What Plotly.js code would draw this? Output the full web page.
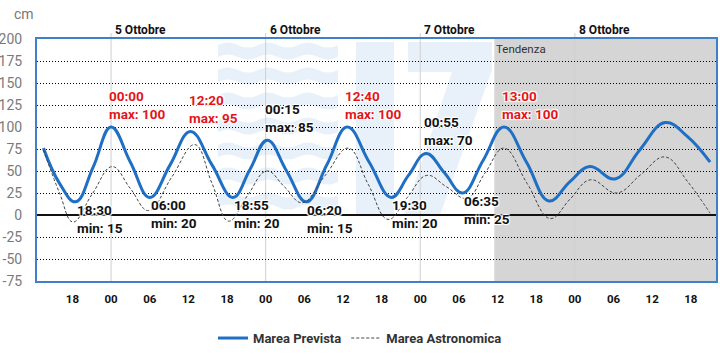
<!DOCTYPE html>
<html>
<head>
<meta charset="utf-8">
<script src="https://cdn.plot.ly/plotly-3.0.1.min.js"></script>
<style>html,body{margin:0;padding:0;background:#fff;}#chart{width:720px;height:357px;}</style>
</head>
<body>
<div id="chart"></div>
<script>
// ---- Data ----
const tPrevista = ['2024-10-04 13:30','2024-10-04 16:00','2024-10-04 18:30','2024-10-04 21:15','2024-10-05 00:00','2024-10-05 03:00','2024-10-05 06:00','2024-10-05 09:10','2024-10-05 12:20','2024-10-05 15:40','2024-10-05 18:55','2024-10-05 21:35','2024-10-06 00:15','2024-10-06 03:15','2024-10-06 06:20','2024-10-06 09:30','2024-10-06 12:40','2024-10-06 16:05','2024-10-06 19:30','2024-10-06 22:10','2024-10-07 00:55','2024-10-07 03:45','2024-10-07 06:35','2024-10-07 09:45','2024-10-07 13:00','2024-10-07 16:30','2024-10-07 20:00','2024-10-07 23:15','2024-10-08 02:20','2024-10-08 06:15','2024-10-08 10:05','2024-10-08 14:00','2024-10-08 17:30','2024-10-08 21:00'];
const vPrevista = [76,36,15,55,100,60,20,57,95,57,20,52,85,50,15,57,100,60,20,45,70,48,25,62,100,60,16,38,55,41,74,105,89,60];

const tAstronomica = ['2024-10-04 13:30','2024-10-04 16:00','2024-10-04 18:05','2024-10-04 21:05','2024-10-05 00:10','2024-10-05 03:00','2024-10-05 05:50','2024-10-05 09:25','2024-10-05 13:00','2024-10-05 15:40','2024-10-05 18:15','2024-10-05 21:10','2024-10-06 00:10','2024-10-06 02:55','2024-10-06 05:40','2024-10-06 09:15','2024-10-06 12:50','2024-10-06 15:55','2024-10-06 19:00','2024-10-06 22:00','2024-10-07 01:00','2024-10-07 04:05','2024-10-07 07:15','2024-10-07 10:05','2024-10-07 13:00','2024-10-07 16:35','2024-10-07 20:10','2024-10-07 23:15','2024-10-08 02:25','2024-10-08 06:30','2024-10-08 10:15','2024-10-08 14:00','2024-10-08 17:30','2024-10-08 21:00'];
const vAstronomica = [74,25,-8,24,55,30,5,43,80,36,-7,22,50,32,14,45,76,35,-5,20,45,32,19,48,76,36,-4,18,40,25,46,66,38,2];

const maxTimes = ['2024-10-05 00:00','2024-10-05 12:20','2024-10-06 00:15','2024-10-06 12:40','2024-10-07 00:55','2024-10-07 13:00'];
const maxLabels = ['00:00','12:20','00:15','12:40','00:55','13:00'];
const maxValues = [100,95,85,100,70,100];

const minTimes = ['2024-10-04 18:30','2024-10-05 06:00','2024-10-05 18:55','2024-10-06 06:20','2024-10-06 19:30','2024-10-07 06:35'];
const minLabels = ['18:30','06:00','18:55','06:20','19:30','06:35'];
const minValues = [15,20,20,15,20,25];

const dayTimes = ['2024-10-05 00:00','2024-10-06 00:00','2024-10-07 00:00','2024-10-08 00:00'];
const dayLabels = ['5 Ottobre','6 Ottobre','7 Ottobre','8 Ottobre'];

const yTickVals = [-75,-50,-25,0,25,50,75,100,125,150,175,200];
const yTickText = ['-75','-50','-25','0','25','50','75','100','125','150','175','200'];

const tendenzaStart = '2024-10-07 11:30';
const xRange = ['2024-10-04 12:30','2024-10-08 21:55'];
const yRange = [-75, 200];

// ---- Style ----
const BLUE = '#1f6fc5';
const RED = '#e3151a';
const FONT = 'Roboto, "Liberation Sans", sans-serif';
const HALO = '1px 1px 1px #fff, -1px -1px 1px #fff, 1px -1px 1px #fff, -1px 1px 1px #fff';

// pixel helpers for decorative watermark (paper coordinates)
const L = 37, R = 716, T = 39, B = 281;
const px = x => ((x - L) / (R - L)).toFixed(4);
const py = y => ((B - y) / (B - T)).toFixed(4);
function waveBand(x0, x1, yTop, th, amp, wl) {
  let d = 'M' + px(x0) + ',' + py(yTop);
  const n = Math.round((x1 - x0) / wl);
  for (let i = 0; i < n; i++) {
    const xa = x0 + i * wl;
    d += ' Q' + px(xa + wl / 4) + ',' + py(yTop - amp) + ' ' + px(xa + wl / 2) + ',' + py(yTop);
    d += ' Q' + px(xa + 3 * wl / 4) + ',' + py(yTop + amp) + ' ' + px(xa + wl) + ',' + py(yTop);
  }
  const xe = x0 + n * wl;
  d += ' L' + px(xe) + ',' + py(yTop + th);
  for (let i = n - 1; i >= 0; i--) {
    const xa = x0 + i * wl;
    d += ' Q' + px(xa + 3 * wl / 4) + ',' + py(yTop + th + amp) + ' ' + px(xa + wl / 2) + ',' + py(yTop + th);
    d += ' Q' + px(xa + wl / 4) + ',' + py(yTop + th - amp) + ' ' + px(xa) + ',' + py(yTop + th);
  }
  return d + ' Z';
}
function poly(pts) {
  return 'M' + pts.map(p => px(p[0]) + ',' + py(p[1])).join(' L') + ' Z';
}

const WM = 'rgba(210,227,243,0.5)';
const shapes = [];
// tendenza background
shapes.push({type:'rect', xref:'x', yref:'paper', x0: tendenzaStart, x1: xRange[1], y0:0, y1:1,
  fillcolor:'#d5d5d5', line:{width:0}, layer:'below'});
// watermark (decorative)
[45, 70, 95, 120, 145, 170, 195].forEach(y => {
  shapes.push({type:'path', xref:'paper', yref:'paper', path: waveBand(218, 338, y, 12, 5, 40),
    fillcolor: WM, line:{width:0}, layer:'below'});
});
shapes.push({type:'path', xref:'paper', yref:'paper', path: poly([[356,42],[394,42],[394,215],[356,215]]),
  fillcolor: WM, line:{width:0}, layer:'below'});
shapes.push({type:'path', xref:'paper', yref:'paper', path: poly([[408,42],[492,42],[492,70],[440,215],[404,215],[452,72],[408,72]]),
  fillcolor: WM, line:{width:0}, layer:'below'});
// day separators
dayTimes.forEach(d => {
  shapes.push({type:'line', xref:'x', yref:'paper', x0:d, x1:d, y0:0, y1:1.025,
    line:{color:'#cfcfcf', width:1}, layer:'between'});
});

const annotations = [];
maxTimes.forEach((t, i) => {
  annotations.push({x:t, y:maxValues[i], xref:'x', yref:'y', showarrow:false,
    text: maxLabels[i] + '<br>max: ' + maxValues[i], align:'left', xanchor:'left', yanchor:'middle',
    xshift:-4, yshift:22,
    font:{family:FONT, size:13.5, weight:700, color: maxValues[i] >= 90 ? RED : '#111', shadow: HALO}});
});
minTimes.forEach((t, i) => {
  annotations.push({x:t, y:minValues[i], xref:'x', yref:'y', showarrow:false,
    text: minLabels[i] + '<br>min: ' + minValues[i], align:'left', xanchor:'left', yanchor:'middle',
    xshift:-1, yshift:-17,
    font:{family:FONT, size:13.5, weight:700, color:'#111', shadow: HALO}});
});
dayTimes.forEach((t, i) => {
  annotations.push({x:t, y:1, xref:'x', yref:'paper', showarrow:false, text: dayLabels[i],
    xanchor:'left', yanchor:'bottom', xshift:2, yshift:0,
    font:{family:FONT, size:12, weight:700, color:'#111'}});
});
annotations.push({x:tendenzaStart, y:1, xref:'x', yref:'paper', showarrow:false, text:'Tendenza',
  xanchor:'left', yanchor:'top', xshift:0, yshift:-1,
  font:{family:FONT, size:11.5, color:'#333'}});
annotations.push({x:(12 - L) / (R - L), y:(B - 14) / (B - T), xref:'paper', yref:'paper', showarrow:false, text:'cm',
  xanchor:'left', yanchor:'middle', font:{family:FONT, size:14, color:'#777'}});

const traces = [
  {x:tPrevista, y:vPrevista, type:'scatter', mode:'lines', name:'Marea Prevista',
   line:{color:BLUE, width:3, shape:'spline', smoothing:1.2}},
  {x:tAstronomica, y:vAstronomica, type:'scatter', mode:'lines', name:'Marea Astronomica',
   line:{color:'#444', width:1, dash:'3px,2px', shape:'spline', smoothing:1.2}}
];

const layout = {
  width:720, height:357,
  margin:{l:37, r:4, t:39, b:76},
  paper_bgcolor:'#fff', plot_bgcolor:'rgba(0,0,0,0)',
  showlegend:true,
  legend:{orientation:'h', xref:'container', yref:'container', x:0.5, xanchor:'center', y:0.053, yanchor:'middle',
    font:{family:FONT, size:13, weight:700, color:'#333'}},
  xaxis:{type:'date', range:xRange, tick0:'2024-10-04 00:00', dtick:6*3600*1000, tickformat:'%H',
    showgrid:false, zeroline:false, showline:true, mirror:true, linecolor:'#3f80c8', linewidth:2,
    ticks:'', ticklabelstandoff:6, tickfont:{family:FONT, size:11.5, weight:700, color:'#111'}},
  yaxis:{range:yRange, tickmode:'array', tickvals:yTickVals, ticktext:yTickText,
    showgrid:true, gridcolor:'#000', griddash:'1px,2px', gridwidth:1,
    zeroline:true, zerolinecolor:'#111', zerolinewidth:2,
    showline:true, mirror:true, linecolor:'#3f80c8', linewidth:2,
    ticks:'', ticklabelstandoff:10, tickfont:{family:FONT, size:14, color:'#7a7a7a'}},
  shapes: shapes,
  annotations: annotations,
  hovermode:false
};

Plotly.newPlot('chart', traces, layout, {staticPlot:true, displayModeBar:false});
</script>
</body>
</html>
